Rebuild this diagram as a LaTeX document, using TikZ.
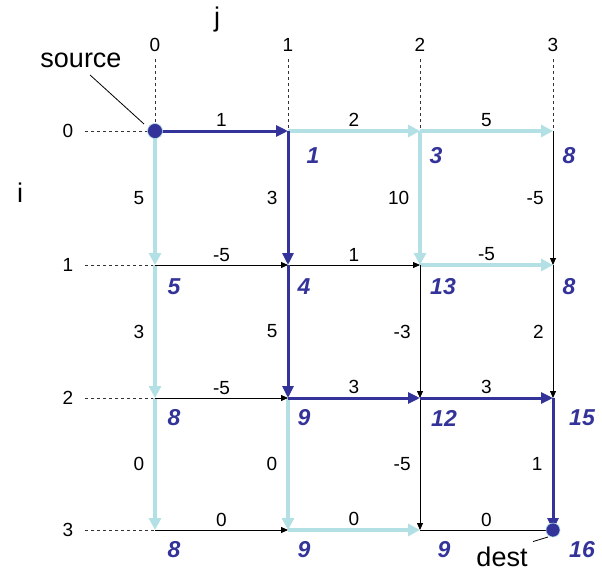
\documentclass[tikz,border=0pt]{standalone}
\usepackage{fontspec}
\setmainfont{Liberation Sans}
\usetikzlibrary{arrows.meta,calc,positioning}
\definecolor{bestblue}{RGB}{51,51,153}
\definecolor{treecyan}{RGB}{178,224,228}

\begin{document}
\begin{tikzpicture}[x=1pt, y=-1pt,
    bestedge/.style={draw=bestblue, line width=3pt, -{Triangle[length=12pt,width=11pt]}},
    treeedge/.style={draw=treecyan, line width=3.5pt, -{Triangle[length=12pt,width=12pt]}},
    thinedge/.style={draw=black, line width=0.8pt, -{Triangle[length=7pt,width=6pt]}},
    weight/.style={font=\fontsize{19}{22}\selectfont, inner sep=3pt},
    dist/.style={font=\fontsize{23}{26}\selectfont\bfseries\itshape, text=bestblue},
    idx/.style={font=\fontsize{19}{22}\selectfont},
    big/.style={font=\fontsize{27}{30}\selectfont},
    guide/.style={draw=black!80, line width=0.6pt, dash pattern=on 3pt off 3pt},
    endpt/.style={circle, fill=bestblue, draw=treecyan, line width=0.6pt, inner sep=0pt, minimum size=15pt}]

\useasboundingbox (0,0) rectangle (602,571);

% Griglia dei nodi
\foreach \i/\y in {0/131,1/265,2/398,3/530}
  \foreach \j/\x in {0/155,1/288,2/420,3/553}
    \coordinate (n\i\j) at (\x,\y);

% Indici
\node[big] (jlab) at (217,20) {j};
\node[big] (ilab) at (20,193) {i};
\foreach \j/\x in {0/155,1/288,2/420,3/553}
  \node[idx] (c\j) at (\x,45) {\j};
\foreach \i/\y in {0/131,1/265,2/398,3/530}
  \node[idx] (r\i) at (68,\y) {\i};
\foreach \j in {0,1,2,3}
  \draw[guide, shorten <=4pt] (c\j.south) -- (n0\j);
\foreach \i in {0,1,2,3}
  \draw[guide, shorten <=8pt] (r\i.east) -- (n\i0);

% Archi dell'albero
\draw[treeedge] (n01) -- node[weight, above, text=black] {2} (n02);
\draw[treeedge] (n02) -- node[weight, above, text=black] {5} (n03);
\draw[treeedge] (n12) -- node[weight, above, text=black] {-5} (n13);
\draw[treeedge] (n31) -- node[weight, above, text=black] {0} (n32);
\draw[treeedge] (n00) -- node[weight, left=6pt, text=black] {5} (n10);
\draw[treeedge] (n10) -- node[weight, left=6pt, text=black] {3} (n20);
\draw[treeedge] (n20) -- node[weight, left=6pt, text=black] {0} (n30);
\draw[treeedge] (n21) -- node[weight, left=6pt, text=black] {0} (n31);
\draw[treeedge] (n02) -- node[weight, left=6pt, text=black] {10} (n12);

% Archi semplici
\draw[thinedge] (n10) -- node[weight, above] {-5} (n11);
\draw[thinedge] (n11) -- node[weight, above] {1} (n12);
\draw[thinedge] (n20) -- node[weight, above] {-5} (n21);
\draw[thinedge] (n30) -- node[weight, above] {0} (n31);
\draw[thinedge] (n32) -- node[weight, above] {0} (n33);
\draw[thinedge] (n12) -- node[weight, left=6pt] {-3} (n22);
\draw[thinedge] (n22) -- node[weight, left=6pt] {-5} (n32);
\draw[thinedge] (n03) -- node[weight, left=6pt] {-5} (n13);
\draw[thinedge] (n13) -- node[weight, left=6pt] {2} (n23);

% Cammino minimo
\draw[bestedge] (n00) -- node[weight, above] {1} (n01);
\draw[bestedge] (n01) -- node[weight, left=6pt] {3} (n11);
\draw[bestedge] (n11) -- node[weight, left=6pt] {5} (n21);
\draw[bestedge] (n21) -- node[weight, above] {3} (n22);
\draw[bestedge] (n22) -- node[weight, above] {3} (n23);
\draw[bestedge] (n23) -- node[weight, left=6pt] {1} (n33);

% Sorgente e destinazione
\node[endpt] (src) at (n00) {};
\node[endpt, minimum size=14pt] (dst) at (n33) {};
\node[big] (source) at (81,60) {source};
\node[big] (dest) at (502,557) {dest};
\coordinate (srctip) at (144,124);
\coordinate (dsttip) at (548,537);
\draw[line width=0.8pt] ($(source.south)+(9,4)$) -- (srctip);
\draw[line width=0.8pt] ($(dest.north east)+(2,-2)$) -- (dsttip);

% Distanze
\node[dist] (d01) at (313,156) {1};
\node[dist] (d02) at (436,156) {3};
\node[dist] (d03) at (569,156) {8};
\node[dist] (d10) at (174,287) {5};
\node[dist] (d11) at (304,287) {4};
\node[dist] (d12) at (443,287) {13};
\node[dist] (d13) at (569,287) {8};
\node[dist] (d20) at (174,418) {8};
\node[dist] (d21) at (304,418) {9};
\node[dist] (d22) at (444,418) {12};
\node[dist] (d23) at (582,418) {15};
\node[dist] (d30) at (174,550) {8};
\node[dist] (d31) at (304,550) {9};
\node[dist] (d32) at (444,550) {9};
\node[dist] (d33) at (582,550) {16};

\end{tikzpicture}
\end{document}
